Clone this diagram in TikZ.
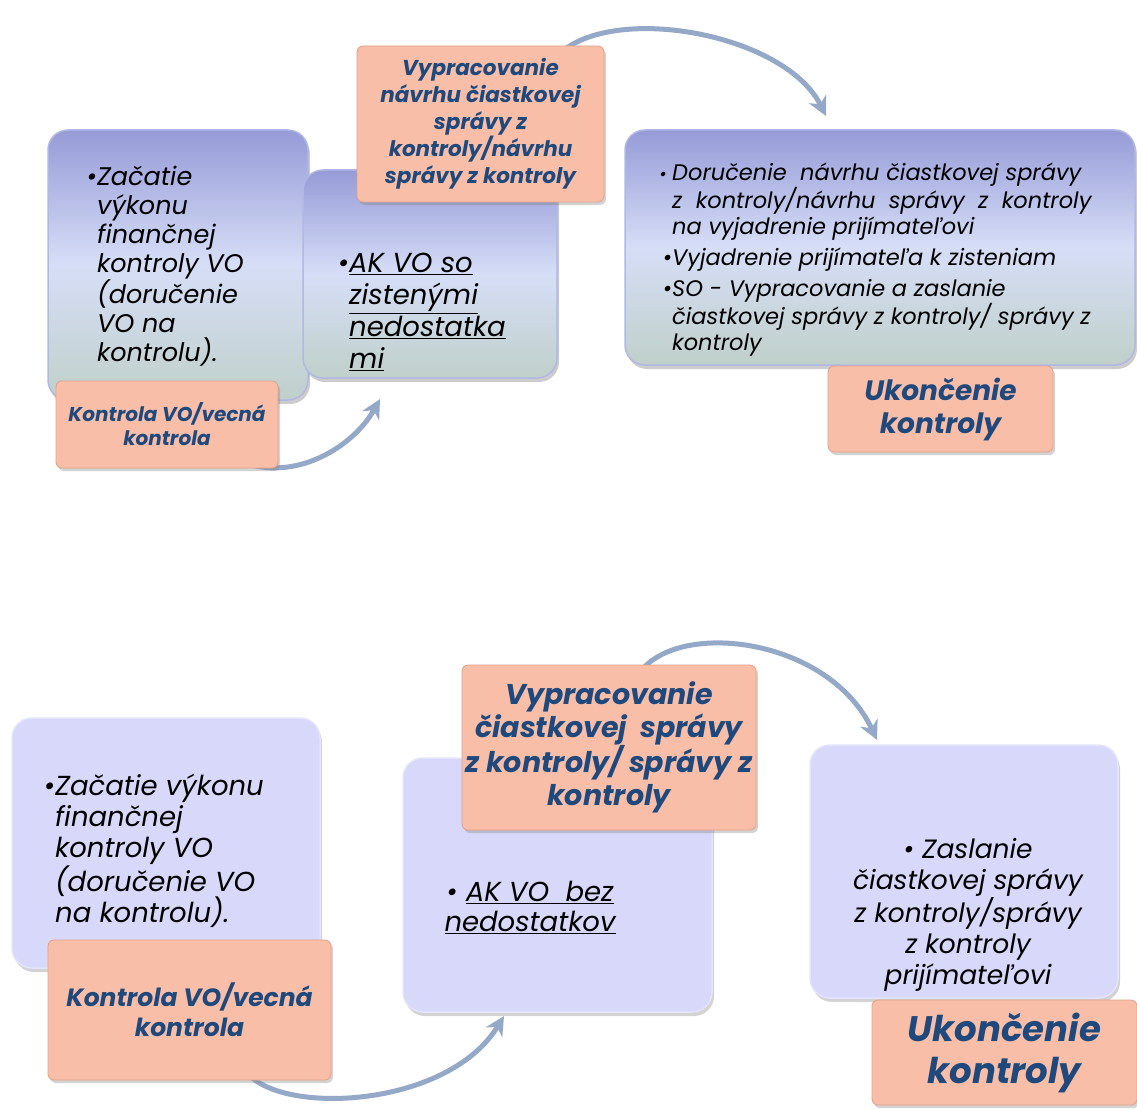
\documentclass[tikz,border=0pt]{standalone}
\usepackage{fontspec}
\setmainfont{Poppins}
\usetikzlibrary{arrows.meta}
\usetikzlibrary{shadows}
\usetikzlibrary{backgrounds}

\definecolor{peach}{RGB}{249,190,168}
\definecolor{peachline}{RGB}{226,160,136}
\definecolor{navytxt}{RGB}{31,73,125}
\definecolor{bluetop}{RGB}{150,155,215}
\definecolor{bluemid}{RGB}{214,222,247}
\definecolor{bluebot}{RGB}{192,208,202}
\definecolor{blueedge}{RGB}{178,184,228}
\definecolor{lavender}{RGB}{216,216,250}
\definecolor{lavedge}{RGB}{228,228,252}
\definecolor{arrowblue}{RGB}{148,168,200}

\begin{document}
\begin{tikzpicture}[x=1pt,y=-1pt,
  bluebox/.style={rounded corners=20pt,top color=bluetop,bottom color=bluebot,middle color=bluemid,draw=blueedge,line width=1.5pt,inner sep=0pt,drop shadow={opacity=0.4,shadow xshift=2pt,shadow yshift=-4pt}},
  lavbox/.style={rounded corners=20pt,fill=lavender,draw=lavedge,line width=1.5pt,inner sep=0pt,drop shadow={opacity=0.35,shadow xshift=2pt,shadow yshift=-4pt}},
  peachbox/.style={rounded corners=6pt,fill=peach,draw=peachline,line width=0.8pt,text=navytxt,align=center,inner sep=0pt,drop shadow={opacity=0.35,shadow xshift=2pt,shadow yshift=-3pt}},
  boxtext/.style={inner sep=0pt,text=black},
  flow/.style={draw=arrowblue,line width=5pt,-{Stealth[length=19pt,width=19pt,inset=6pt]}}]
\useasboundingbox (0,0) rectangle (1137,1110);

% upper row
\node (boxA) [bluebox,minimum width=260pt,minimum height=270pt] at (178,265) {};
\node (textA) [boxtext,anchor=west,align=left,font=\itshape\fontsize{25.5}{29}\selectfont] at (97,266)
  {\llap{\textbullet}Začatie\\výkonu\\finančnej\\kontroly VO\\(doručenie\\VO na\\kontrolu).};
\node (peachA) [peachbox,minimum width=222pt,minimum height=87pt,font=\bfseries\itshape\fontsize{20}{24}\selectfont] at (167,424.5)
  {Kontrola VO/vecná\\kontrola};
\node (boxB) [bluebox,minimum width=254pt,minimum height=208pt] at (430,274) {};
\node (textB) [boxtext,anchor=west,align=left,font=\itshape\fontsize{27.5}{32}\selectfont] at (349,312)
  {\llap{\textbullet}\underline{AK VO so}\\\underline{zistenými}\\\underline{nedostatka}\\\underline{mi}};
\node (peachB) [peachbox,minimum width=247pt,minimum height=156pt,font=\bfseries\itshape\fontsize{21.5}{27}\selectfont] at (480.5,124)
  {Vypracovanie\\návrhu čiastkovej\\správy z\\kontroly/návrhu\\správy z kontroly};
\node (boxC) [bluebox,minimum width=510pt,minimum height=235pt] at (880,247.5) {};
\node (textC) [boxtext,anchor=west,align=left,font=\itshape\fontsize{22.5}{26}\selectfont] at (672,260)
  {\llap{\fontsize{18}{18}\selectfont\textbullet\ }Doručenie \ návrhu čiastkovej správy\\z \ kontroly/návrhu \ správy \ z \ kontroly\\na vyjadrenie prijímateľovi\\[5pt]
   \llap{\textbullet}Vyjadrenie prijímateľa k zisteniam\\[5pt]
   \llap{\textbullet}SO - Vypracovanie a zaslanie\\čiastkovej správy z kontroly/ správy z\\kontroly};
\node (peachC) [peachbox,minimum width=225pt,minimum height=86pt,font=\bfseries\itshape\fontsize{28}{33}\selectfont] at (940.5,409)
  {Ukončenie\\kontroly};

% lower row
\node (boxD) [lavbox,minimum width=308pt,minimum height=250pt] at (166,843) {};
\node (textD) [boxtext,anchor=west,align=left,font=\itshape\fontsize{27.5}{31}\selectfont] at (55,851)
  {\llap{\textbullet}Začatie výkonu\\finančnej\\kontroly VO\\(doručenie VO\\na kontrolu).};
\node (peachD) [peachbox,minimum width=283pt,minimum height=140pt,font=\bfseries\itshape\fontsize{25}{30}\selectfont] at (189.5,1010)
  {Kontrola VO/vecná\\kontrola};
\node (boxE) [lavbox,minimum width=309pt,minimum height=254pt] at (557.5,885) {};
\node (textE) [boxtext,align=center,font=\itshape\fontsize{27.5}{30}\selectfont] at (530,907)
  {\textbullet\ \underline{AK VO \ bez}\\\underline{nedostatkov}};
\node (peachE) [peachbox,minimum width=294pt,minimum height=165pt,font=\bfseries\itshape\fontsize{28.5}{33}\selectfont] at (609,747.5)
  {Vypracovanie\\čiastkovej \ správy\\z kontroly/ správy z\\kontroly};
\node (boxF) [lavbox,minimum width=308pt,minimum height=253pt] at (964,871.5) {};
\node (textF) [boxtext,align=center,font=\itshape\fontsize{26.5}{31}\selectfont] at (968,915)
  {\textbullet\ Zaslanie\\čiastkovej správy\\z kontroly/správy\\z kontroly\\prijímateľovi};
\node (peachF) [peachbox,minimum width=265pt,minimum height=105pt,font=\bfseries\itshape\fontsize{35.5}{42}\selectfont] at (1004.5,1052.5)
  {Ukončenie\\kontroly};

% curved arrows behind the boxes
\coordinate (tipA) at (380,399);
\coordinate (tipB) at (826,116);
\coordinate (tipD) at (504,1016);
\coordinate (tipE) at (877,740);
\begin{pgfonlayer}{background}
\draw [flow] ([xshift=-25pt,yshift=3pt]peachA.south east) .. controls +(50,12) and +(-25,45) .. (tipA);
\draw [flow] ([xshift=-40pt,yshift=-4pt]peachB.north east) .. controls +(60,-45) and +(-40,-80) .. (tipB);
\draw [flow] ([xshift=60pt,yshift=5pt]peachD.south) .. controls +(40,40) and +(-55,90) .. (tipD);
\draw [flow] ([xshift=-116pt,yshift=-7pt]peachE.north east) .. controls +(40,-52) and +(-48,-102) .. (tipE);
\end{pgfonlayer}
\end{tikzpicture}
\end{document}
